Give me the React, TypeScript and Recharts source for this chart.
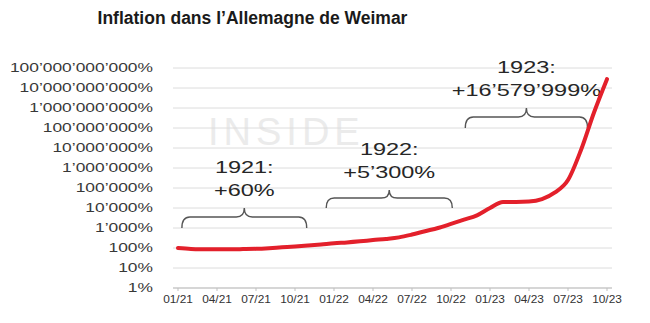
import { LineChart, Line, XAxis, YAxis, CartesianGrid, ReferenceArea } from "recharts";

// price level in % of Jan 1921, one value per month from 01/21 to 10/23
const PRICE_LEVEL = [
  100, 90, 87, 86, 86, 88, 91, 98, 108, 118, 132, 150,
  175, 190, 215, 250, 285, 340, 470, 690, 1000, 1600, 2600, 4300,
  10000, 20000, 20000, 21000, 28000, 60000, 250000, 8000000, 600000000, 28000000000,
];

const X_TICKS = [0, 3, 6, 9, 12, 15, 18, 21, 24, 27, 30, 33];
const X_LABELS = ["01/21", "04/21", "07/21", "10/21", "01/22", "04/22", "07/22", "10/22", "01/23", "04/23", "07/23", "10/23"];
const Y_TICKS = [1, 10, 100, 1e3, 1e4, 1e5, 1e6, 1e7, 1e8, 1e9, 1e10, 1e11];

// yearly annotations (brace spans in months, brace heights in %)
const ANNOT_YEAR = ["1921:", "1922:", "1923:"];
const ANNOT_CHANGE = ["+60%", "+5’300%", "+16’579’999%"];
const BRACE_FROM = [0.3, 11.4, 22.1];
const BRACE_TO = [9.9, 21.1, 31.5];
const BRACE_LOW = [1000, 10000, 1e8];
const BRACE_HIGH = [10000, 80000, 1e9];

const data = PRICE_LEVEL.map((v, i) => ({ m: i, v }));

const FONT = "'Liberation Sans', Arial, sans-serif";
const RED = "#e3202b";

const fmtPct = (v: number) => Math.round(v).toString().replace(/\B(?=(\d{3})+(?!\d))/g, "’") + "%";

function YTick({ x, y, payload }: any) {
  return (
    <g transform={`translate(${x},${y})`}>
      <text transform="scale(1.45,1)" textAnchor="end" dy={4} fontSize={12} fontFamily={FONT} fill="#383838">
        {fmtPct(payload.value)}
      </text>
    </g>
  );
}

function XTick({ x, y, payload }: any) {
  return (
    <g transform={`translate(${x},${y})`}>
      <text transform="scale(1.08,1)" textAnchor="middle" dy={10} fontSize={11} fontFamily={FONT} fill="#333">
        {X_LABELS[X_TICKS.indexOf(payload.value)]}
      </text>
    </g>
  );
}

function Brace({ x, y, width, height, idx }: any) {
  const x0 = x;
  const x1 = x + width;
  const cx = x + width / 2;
  const yb = y + height;
  const bar = yb - height * 0.55;
  const r = 8;
  const d =
    `M${x0},${yb} Q${x0},${bar} ${x0 + r},${bar} L${cx - r},${bar} Q${cx},${bar} ${cx},${y} ` +
    `Q${cx},${bar} ${cx + r},${bar} L${x1 - r},${bar} Q${x1},${bar} ${x1},${yb}`;
  return (
    <g>
      <path d={d} fill="none" stroke="#555" strokeWidth={1.4} />
      <g transform={`translate(${cx},${y - 41})`}>
        <text transform="scale(1.38,1)" textAnchor="middle" dy={6} fontSize={17} fontFamily={FONT} fill="#262626">
          {ANNOT_YEAR[idx]}
        </text>
      </g>
      <g transform={`translate(${cx},${y - 18})`}>
        <text transform="scale(1.38,1)" textAnchor="middle" dy={6} fontSize={17} fontFamily={FONT} fill="#262626">
          {ANNOT_CHANGE[idx]}
        </text>
      </g>
    </g>
  );
}

export default function App() {
  return (
    <div style={{ position: "absolute", left: 0, top: 0, width: 650, height: 323, background: "#fff" }}>
      {/* faint watermark behind the plot */}
      <div
        style={{
          position: "absolute",
          left: 208,
          top: 110,
          fontFamily: FONT,
          fontSize: 38,
          letterSpacing: 5,
          lineHeight: "44px",
          color: "#ebebeb",
        }}
      >
        INSIDE
      </div>
      <div
        style={{
          position: "absolute",
          left: 0,
          top: 8,
          width: 505,
          textAlign: "center",
          fontFamily: FONT,
          fontWeight: "bold",
          fontSize: 17.5,
          lineHeight: "20px",
          color: "#1a1a1a",
        }}
      >
        Inflation dans l’Allemagne de Weimar
      </div>
      <LineChart width={650} height={323} data={data} margin={{ top: 68, right: 38, left: 0, bottom: 5 }}>
        <CartesianGrid vertical={false} stroke="#dcdcdc" />
        <XAxis
          type="number"
          dataKey="m"
          domain={[0, 33]}
          ticks={X_TICKS}
          interval={0}
          padding={{ left: 5, right: 5 }}
          height={30}
          stroke="#bfbfbf"
          tickSize={3}
          tickMargin={2}
          tick={<XTick />}
        />
        <YAxis
          type="number"
          scale="log"
          domain={[1, 1e11]}
          ticks={Y_TICKS}
          interval={0}
          allowDataOverflow
          width={173}
          axisLine={false}
          tickLine={false}
          tickSize={0}
          tickMargin={20}
          tick={<YTick />}
        />
        {ANNOT_YEAR.map((_, i) => (
          <ReferenceArea
            key={i}
            x1={BRACE_FROM[i]}
            x2={BRACE_TO[i]}
            y1={BRACE_LOW[i]}
            y2={BRACE_HIGH[i]}
            ifOverflow="visible"
            shape={(p: any) => <Brace {...p} idx={i} />}
          />
        ))}
        <Line
          type="monotone"
          dataKey="v"
          stroke={RED}
          strokeWidth={4}
          dot={false}
          strokeLinecap="round"
          isAnimationActive={false}
        />
      </LineChart>
    </div>
  );
}
